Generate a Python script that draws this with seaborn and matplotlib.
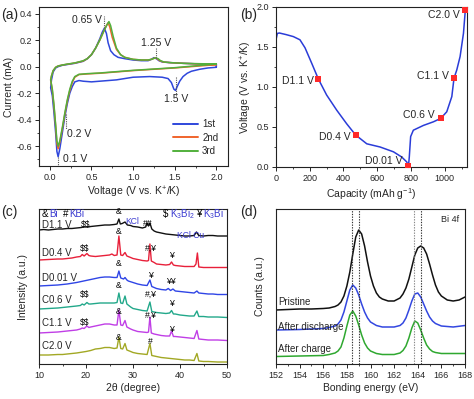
import numpy as np
import pandas as pd
import matplotlib
matplotlib.use("Agg")
import matplotlib.pyplot as plt
import seaborn as sns

sns.set_style("ticks")
plt.rcParams['font.family'] = ['Liberation Sans', 'DejaVu Sans']
plt.rcParams['mathtext.fontset'] = 'custom'
plt.rcParams['mathtext.rm'] = 'Liberation Sans'
plt.rcParams['mathtext.it'] = 'Liberation Sans'

# ---------------- (a) CV data ----------------
cv1_v = [2.0, 1.9, 1.8, 1.7, 1.65, 1.6, 1.56, 1.53, 1.51, 1.49, 1.46, 1.42, 1.35, 1.2, 1.0, 0.8, 0.7, 0.6, 0.5, 0.4,
         0.35, 0.3, 0.27, 0.24, 0.21, 0.18, 0.15, 0.12, 0.1, 0.085, 0.07, 0.05, 0.03, 0.01,
         0.02, 0.04, 0.07, 0.1, 0.15, 0.2, 0.3, 0.4, 0.45, 0.5, 0.55, 0.6, 0.63, 0.655, 0.68, 0.7, 0.73, 0.77,
         0.82, 0.9, 1.0, 1.1, 1.18, 1.22, 1.25, 1.28, 1.31, 1.35, 1.45, 1.6, 1.8, 2.0, 2.0]
cv1_i = [-0.005, -0.01, -0.02, -0.035, -0.05, -0.075, -0.11, -0.15, -0.18, -0.17, -0.12, -0.09, -0.08, -0.075, -0.08,
         -0.1, -0.105, -0.11, -0.115, -0.11, -0.105, -0.115, -0.15, -0.2, -0.28, -0.38, -0.5, -0.62, -0.68, -0.64,
         -0.5, -0.35, -0.22, -0.16,
         -0.1, -0.04, -0.01, 0.0, 0.01, 0.015, 0.025, 0.04, 0.06, 0.09, 0.14, 0.21, 0.26, 0.29, 0.25, 0.18, 0.12,
         0.09, 0.07, 0.06, 0.05, 0.045, 0.045, 0.055, 0.068, 0.06, 0.045, 0.035, 0.03, 0.025, 0.02, 0.02, -0.005]
cv2_v = [2.0, 1.5, 1.0, 0.8, 0.6, 0.45, 0.35, 0.3, 0.27, 0.24, 0.21, 0.18, 0.15, 0.12, 0.1, 0.085, 0.07, 0.05, 0.03,
         0.01, 0.02, 0.04, 0.07, 0.1, 0.15, 0.2, 0.3, 0.4, 0.45, 0.5, 0.55, 0.6, 0.65, 0.68, 0.70, 0.72, 0.75, 0.8,
         0.85, 0.9, 1.0, 1.1, 1.18, 1.22, 1.26, 1.29, 1.32, 1.36, 1.45, 1.6, 1.8, 2.0]
cv2_i = [0.015, -0.01, -0.03, -0.04, -0.05, -0.055, -0.06, -0.08, -0.12, -0.18, -0.26, -0.36, -0.47, -0.57, -0.62,
         -0.58, -0.45, -0.3, -0.18, -0.1, -0.07, -0.03, -0.005, 0.005, 0.012, 0.017, 0.027, 0.042, 0.06, 0.09, 0.14,
         0.2, 0.27, 0.31, 0.33, 0.3, 0.22, 0.13, 0.09, 0.07, 0.055, 0.05, 0.05, 0.055, 0.065, 0.06, 0.045, 0.035,
         0.03, 0.025, 0.02, 0.015]
cv3_v = [2.0, 1.5, 1.0, 0.8, 0.6, 0.45, 0.35, 0.3, 0.27, 0.24, 0.21, 0.18, 0.15, 0.12, 0.1, 0.085, 0.07, 0.05, 0.03,
         0.01, 0.02, 0.04, 0.07, 0.1, 0.15, 0.2, 0.3, 0.4, 0.45, 0.5, 0.55, 0.6, 0.65, 0.69, 0.71, 0.73, 0.76, 0.8,
         0.85, 0.9, 1.0, 1.1, 1.18, 1.22, 1.27, 1.3, 1.33, 1.37, 1.45, 1.6, 1.8, 2.0]
cv3_i = [0.02, -0.008, -0.028, -0.038, -0.048, -0.053, -0.058, -0.075, -0.11, -0.17, -0.25, -0.35, -0.46, -0.56,
         -0.60, -0.56, -0.44, -0.29, -0.17, -0.1, -0.07, -0.03, -0.005, 0.005, 0.012, 0.018, 0.028, 0.044, 0.06,
         0.09, 0.14, 0.2, 0.27, 0.32, 0.34, 0.31, 0.23, 0.14, 0.09, 0.07, 0.055, 0.05, 0.05, 0.055, 0.066, 0.06,
         0.045, 0.035, 0.03, 0.025, 0.022, 0.02]
cv_labels = ["1st", "2nd", "3rd"]
cv_colors = ["#2f47dc", "#f0642c", "#52b03c"]

# ---------------- (b) GCD data ----------------
gcd_cap = [0, 0, 8, 20, 60, 103, 142, 172, 211, 251, 300, 360, 419, 472, 538, 617, 696, 745, 775, 785,
           790, 798, 814, 874, 933, 976, 1012, 1042, 1055, 1071, 1091, 1111, 1122]
gcd_volt = [2.0, 1.59, 1.67, 1.675, 1.655, 1.63, 1.59, 1.49, 1.30, 1.10, 0.90, 0.71, 0.54, 0.40, 0.29, 0.25,
            0.19, 0.125, 0.063, 0.01, 0.125, 0.38, 0.46, 0.52, 0.565, 0.607, 0.69, 0.88, 1.11, 1.21, 1.38, 1.67, 1.96]
pt_cap = [251, 472, 785, 976, 1055, 1122]
pt_volt = [1.10, 0.40, 0.01, 0.607, 1.11, 1.96]
pt_labels = ["D1.1 V", "D0.4 V", "D0.01 V", "C0.6 V", "C1.1 V", "C2.0 V"]
pt_label_x = [128, 350, 636, 844, 933, 992]
pt_label_y = [1.07, 0.38, 0.08, 0.65, 1.14, 1.90]

# ---------------- (c) XRD data ----------------
xrd_names = ["D1.1 V", "D0.4 V", "D0.01 V", "C0.6 V", "C1.1 V", "C2.0 V"]
xrd_colors = ["#111111", "#e8203a", "#2f45e6", "#22a88a", "#c03ee6", "#a2a824"]
xrd_offsets = [134, 104, 78, 55, 31, 9]
xrd_label_y = [139, 111, 86, 64, 41, 18]
xrd_x = [
    [10, 11, 12, 13, 14, 15, 16, 17, 18, 19, 19.5, 20, 20.5, 21, 22, 23, 24, 25, 26, 26.6, 27.0, 27.3, 27.7, 28.3,
     28.8, 29.5, 30, 31, 32, 32.7, 33.0, 33.3, 33.6, 34.0, 34.5, 35, 36, 37, 38, 39, 40, 41, 42, 43, 43.5, 44, 45,
     46, 47, 48, 49, 50],
    [10, 12, 14, 15, 16, 17, 18, 18.8, 19.2, 19.6, 20.2, 20.6, 21, 22, 23, 24, 25, 25.5, 26, 26.6, 27.0, 27.4, 27.8,
     28.3, 28.7, 29.5, 30, 31, 32, 33, 33.3, 33.6, 33.9, 34.5, 35, 36, 37, 37.8, 38.2, 38.6, 39, 40, 41, 42, 43,
     43.4, 43.7, 44, 45, 46, 47, 48, 50],
    [10, 12, 14, 16, 18, 20, 21, 22, 23, 24, 25, 26, 26.6, 27.0, 27.4, 28, 28.3, 28.7, 29, 30, 31, 32, 33, 33.6, 34,
     35, 36, 37, 37.5, 38, 38.5, 39, 40, 41, 42, 43, 43.6, 44, 45, 46, 47, 48, 50],
    [10, 12, 14, 16, 17, 18, 18.8, 19.2, 19.6, 20.2, 20.6, 21, 22, 23, 24, 25, 26, 26.6, 27.0, 27.4, 27.8, 28.3,
     28.7, 29.5, 30, 31, 32, 33, 33.6, 34, 35, 36, 37, 37.8, 38.2, 38.6, 39, 40, 41, 42, 43, 43.6, 44, 45, 46, 48,
     50],
    [10, 12, 14, 16, 17, 18, 18.8, 19.2, 19.6, 20.2, 20.6, 21, 22, 23, 24, 25, 26, 26.6, 27.0, 27.4, 27.8, 28.3,
     28.7, 29.5, 30, 31, 32, 33, 33.3, 33.6, 33.9, 34.5, 35, 36, 37, 37.8, 38.2, 38.6, 39, 40, 41, 42, 43, 43.6, 44,
     45, 46, 48, 50],
    [10, 12, 14, 15, 16, 18, 20, 21, 22, 23, 24, 25, 26, 26.6, 27.0, 27.4, 27.8, 28.3, 28.7, 29.5, 30, 31, 32, 33,
     33.6, 34, 35, 36, 37, 38, 39, 40, 41, 42, 43, 43.6, 44, 45, 46, 48, 50],
]
xrd_rel = [
    [0, 0.5, 0, 0.5, 1, 1, 1.5, 1.5, 2, 2.5, 3, 3, 3, 3.5, 4, 4.5, 5, 5, 5.5, 6, 11, 6, 6.5, 8, 5, 4.5, 3.5, 3, 2,
     3, 7, 4, 7, 1, -1, -2, -3, -4, -4.5, -5, -5.5, -6, -6, -5.5, -2, -5.5, -6, -5.5, -5.5, -6, -6, -6],
    [0, 0.5, 1, 1, 1.5, 2, 3, 3.5, 5.5, 4, 6.5, 4.5, 4, 3.5, 4, 4.5, 5, 6, 4.5, 5, 24, 5, 4.5, 7.5, 4, 2.5, 1.5,
     0.5, -0.5, -1, -0.5, 16, -1, -2.5, -4, -4.5, -5, -4.5, -2, -5, -5.5, -6, -6.5, -6.5, -6.5, -4, 7, -7, -7.5,
     -7.5, -7.5, -7.5, -7.5],
    [0, 0.5, 1, 2, 3.5, 5.5, 6.5, 7.5, 8.5, 9, 9, 8.5, 8.5, 15, 8, 7, 8.5, 6, 5, 3.5, 2, 1, 0.5, 6, -0.5, -2.5,
     -3.5, -4, -2.5, -4.5, -3, -5, -5.5, -6, -6.5, -7, -5, -7, -7.5, -8, -8, -8.5, -8.5],
    [0, 0.5, 1, 2, 2.5, 3, 3.5, 5, 4, 6.5, 5, 5, 5.5, 6, 6, 6, 6, 6.5, 16, 6, 5.5, 13, 5, 2, 0.5, -0.5, -1.5, -2,
     7, -2.5, -3.5, -4, -4.5, -4, -1.5, -5, -5, -6, -6.5, -7, -7, -2, -7.5, -7.5, -8, -8, -8.5],
    [0, 0.5, 1, 2, 2.5, 3, 4, 5, 4.5, 7, 5.5, 6, 7, 8, 9, 9, 8, 8, 23, 8, 7.5, 12.5, 6, 4, 3, 1.5, 1, 0.5, 1, 16,
     0, -1, -1.5, -2.5, -3, -3, 2, -3.5, -3.5, -4, -4.5, -5, -5.5, 2.5, -6, -6.5, -7, -7, -7.5],
    [0, 0, 0.5, 0.5, 1, 2, 3.5, 4.5, 6, 6.5, 7.5, 7.5, 6.5, 7, 18, 6.5, 6, 11.5, 5, 3.5, 2.5, 1.5, 1, 0.5, 11.5,
     -0.5, -1.5, -2.5, -3, -3.5, -4, -4.5, -5, -5, -5.5, 1.5, -6, -6.5, -6.5, -7, -7],
]
# peak markers: (text, 2theta, y, colour)
xrd_marks = [
    ("$$", 19.9, 139.5, "k"), ("&", 27.0, 152, "k"), ("KCl", 29.9, 143, "#3a3ad0"), ("##", 33.2, 140, "k"),
    ("KCl Cu", 42.3, 128, "#3a3ad0"),
    ("$$", 19.7, 116, "k"), ("&", 27.0, 133, "k"), ("#,¥", 33.9, 116, "k"), ("¥", 38.2, 108, "k"),
    ("&", 27.0, 100, "k"), ("¥", 33.8, 89, "k"), ("¥¥", 38.0, 82, "k"),
    ("$$", 19.7, 70, "k"), ("&", 27.0, 79, "k"), ("#,¥", 33.9, 70, "k"), ("¥", 38.2, 60, "k"),
    ("$$", 19.7, 41, "k"), ("&", 27.0, 52, "k"), ("#,¥", 33.9, 49, "k"), ("¥", 38.2, 34, "k"),
    ("&", 27.0, 27, "k"), ("#", 33.6, 23, "k"),
]
# phase key at the top of (c): (text, 2theta of left edge, colour)
xrd_key = [("&", 10.6, "k"), ("Bi", 12.2, "#3a3ad0"), ("#", 15.0, "k"), ("KBi", 16.4, "#3a3ad0"),
           ("$", 36.4, "k"), ("K$_3$Bi$_2$", 37.8, "#3a3ad0"), ("¥", 43.4, "k"), ("K$_3$Bi", 44.8, "#3a3ad0")]

# ---------------- (d) XPS data ----------------
xps_names = ["Pristine", "After discharge", "After charge"]
xps_colors = ["#111111", "#3347e0", "#2fa830"]
xps_label_y = [62, 37, 15]
xps_e = [
    [152, 153, 154, 155, 156, 156.5, 157.0, 157.25, 157.5, 157.75, 158.0, 158.25, 158.5, 158.75, 159.0, 159.25,
     159.5, 159.75, 160.0, 160.25, 160.5, 160.75, 161.0, 161.5, 162.0, 162.5, 162.75, 163.0, 163.25, 163.5, 163.75,
     164.0, 164.25, 164.5, 164.75, 165.0, 165.25, 165.5, 165.75, 166.0, 166.5, 167.0, 167.5, 168.0],
    [152, 154, 156, 156.5, 157, 157.25, 157.5, 157.75, 158.0, 158.25, 158.5, 158.75, 159.0, 159.25, 159.5, 159.75,
     160.0, 160.5, 161.0, 162.0, 162.5, 162.75, 163.0, 163.25, 163.5, 163.75, 164.0, 164.25, 164.5, 164.75, 165.0,
     165.25, 165.5, 166.0, 167.0, 168.0],
    [152, 154, 156, 156.5, 157, 157.25, 157.5, 157.75, 158.0, 158.25, 158.5, 158.75, 159.0, 159.25, 159.5, 159.75,
     160.0, 160.5, 161.0, 162.0, 162.5, 162.75, 163.0, 163.25, 163.5, 163.75, 164.0, 164.25, 164.5, 164.75, 165.0,
     165.25, 165.5, 166.0, 168.0],
]
xps_counts = [
    [54, 54.5, 55, 55, 55.5, 56, 57.5, 59, 62, 68, 78, 92, 110, 127, 134, 130, 118, 102, 88, 78, 71, 67, 65, 63, 63,
     66, 70, 76, 85, 97, 109, 116, 118, 116, 110, 100, 89, 79, 72, 68, 64, 63, 64, 67],
    [34, 34.5, 35.5, 36.5, 38, 40, 44, 52, 63, 74, 79, 76, 69, 60, 52, 46, 42, 38.5, 37, 37, 38.5, 41, 46, 54, 63,
     70, 71, 67, 60, 53, 47, 43, 40.5, 38, 37, 38.5],
    [7.5, 8, 8.5, 9.5, 11, 13, 17, 26, 38, 49, 53, 48, 39, 29, 21, 16, 13, 10.5, 9.5, 9.5, 11, 13.5, 18, 26, 36, 43,
     41, 34, 26, 19, 15, 12.5, 11.5, 10.5, 10.5],
]
xps_ref_lines = [158.45, 159.0, 163.7, 164.3]

# ---------------- figure ----------------
fig = plt.figure(figsize=(4.74, 3.99), dpi=100)
W, H = 474, 399


def box(l, t, r, b):
    return [l / W, 1 - b / H, (r - l) / W, (b - t) / H]


axa = fig.add_axes(box(39, 7, 228, 166))
axb = fig.add_axes(box(276, 7, 467, 167))
axc = fig.add_axes(box(39, 209, 227, 364))
axd = fig.add_axes(box(276, 209, 465, 364))

tick_fs = 6.5
lab_fs = 7.5
for ax in (axa, axb, axc, axd):
    ax.tick_params(which='major', direction='out', length=3, width=0.7, labelsize=tick_fs, pad=2)
    ax.tick_params(which='minor', direction='out', length=1.6, width=0.6)
    for s in ax.spines.values():
        s.set_linewidth(0.8)
        s.set_color('#222222')

# (a)
for v, i, lab, c in zip([cv1_v, cv2_v, cv3_v], [cv1_i, cv2_i, cv3_i], cv_labels, cv_colors):
    sns.lineplot(x=v, y=i, sort=False, estimator=None, color=c, lw=1.1, label=lab, ax=axa)
axa.set_xlim(-0.13, 2.14)
axa.set_ylim(-0.75, 0.45)
axa.set_xticks([0.0, 0.5, 1.0, 1.5, 2.0])
axa.set_yticks([-0.6, -0.4, -0.2, 0.0, 0.2, 0.4])
axa.xaxis.set_major_formatter(matplotlib.ticker.FormatStrFormatter('%.1f'))
axa.yaxis.set_major_formatter(matplotlib.ticker.FormatStrFormatter('%.1f'))
axa.xaxis.set_minor_locator(matplotlib.ticker.MultipleLocator(0.25))
axa.yaxis.set_minor_locator(matplotlib.ticker.MultipleLocator(0.1))
axa.set_xlabel("Voltage (V vs. K$^{+}$/K)", fontsize=lab_fs, labelpad=2)
axa.set_ylabel("Current (mA)", fontsize=lab_fs, labelpad=2)
dot = dict(color='#555555', ls=(0, (1, 1)), lw=0.8)
axa.plot([0.655, 0.655], [0.29, 0.38], **dot)
axa.plot([1.27, 1.27], [0.065, 0.15], **dot)
axa.plot([1.51, 1.51], [-0.08, -0.23], **dot)
axa.plot([0.2, 0.2], [-0.36, -0.47], **dot)
axa.plot([0.1, 0.1], [-0.68, -0.74], **dot)
afs = 7.5
axa.text(0.62, 0.355, "0.65 V", fontsize=afs, ha='right', va='center')
axa.text(1.27, 0.18, "1.25 V", fontsize=afs, ha='center', va='center')
axa.text(1.52, -0.245, "1.5 V", fontsize=afs, ha='center', va='center')
axa.text(0.21, -0.51, "0.2 V", fontsize=afs, ha='left', va='center')
axa.text(0.16, -0.695, "0.1 V", fontsize=afs, ha='left', va='center')
leg = axa.legend(loc='lower right', frameon=False, fontsize=7, handlelength=2.6, handletextpad=0.4,
                 labelspacing=0.35, borderaxespad=0.6)
for ln in leg.get_lines():
    ln.set_linewidth(1.4)

# (b)
sns.lineplot(x=gcd_cap, y=gcd_volt, sort=False, estimator=None, color="#2a3cd8", lw=1.1, ax=axb)
sns.scatterplot(x=pt_cap, y=pt_volt, color="#ff2a2a", marker='s', s=14, linewidth=0, zorder=5, ax=axb)
for t, x, y in zip(pt_labels, pt_label_x, pt_label_y):
    axb.text(x, y, t, fontsize=afs, ha='center', va='center')
axb.set_xlim(0, 1132)
axb.set_ylim(0, 2.0)
axb.set_xticks([0, 200, 400, 600, 800, 1000])
axb.set_yticks([0.0, 0.5, 1.0, 1.5, 2.0])
axb.yaxis.set_major_formatter(matplotlib.ticker.FormatStrFormatter('%.1f'))
axb.xaxis.set_minor_locator(matplotlib.ticker.MultipleLocator(100))
axb.yaxis.set_minor_locator(matplotlib.ticker.MultipleLocator(0.25))
axb.set_xlabel("Capacity (mAh g$^{-1}$)", fontsize=lab_fs, labelpad=2)
axb.set_ylabel("Voltage (V vs. K$^{+}$/K)", fontsize=lab_fs, labelpad=2)

# (c)
for xs, rel, off, c, name, ly in zip(xrd_x, xrd_rel, xrd_offsets, xrd_colors, xrd_names, xrd_label_y):
    sns.lineplot(x=xs, y=np.array(rel) + off, sort=False, estimator=None, color=c, lw=1.0, ax=axc)
    axc.text(10.6, ly, name, fontsize=7, ha='left', va='center')
for t, x, y, c in xrd_marks:
    axc.text(x, y, t, fontsize=6.2, ha='center', va='center', color=c, parse_math=False)
for t, x, c in xrd_key:
    axc.text(x, 150, t, fontsize=7, ha='left', va='center', color=c,
             parse_math=(t not in ("$",)))
axc.set_xlim(10, 50)
axc.set_ylim(0, 155)
axc.set_xticks([10, 20, 30, 40, 50])
axc.xaxis.set_minor_locator(matplotlib.ticker.MultipleLocator(5))
axc.set_yticks([])
axc.set_xlabel("2θ (degree)", fontsize=lab_fs, labelpad=2)
axc.set_ylabel("Intensity (a.u.)", fontsize=lab_fs, labelpad=8)

# (d)
for e, cts, c, name, ly in zip(xps_e, xps_counts, xps_colors, xps_names, xps_label_y):
    sns.lineplot(x=e, y=cts, sort=False, estimator=None, color=c, lw=1.1, ax=axd)
    axd.text(152.2, ly, name, fontsize=7, ha='left', va='center')
for xv, col in zip(xps_ref_lines, ['#333333', '#333333', '#888888', '#333333']):
    axd.axvline(xv, color=col, ls=(0, (1.2, 1.2)), lw=0.8)
axd.text(167.5, 144, "Bi 4f", fontsize=6.5, ha='right', va='center')
axd.set_xlim(152, 168)
axd.set_ylim(0, 155)
axd.set_xticks(list(range(152, 169, 2)))
axd.xaxis.set_minor_locator(matplotlib.ticker.MultipleLocator(1))
axd.set_yticks([])
axd.set_xlabel("Bonding energy (eV)", fontsize=lab_fs, labelpad=2)
axd.set_ylabel("Counts (a.u.)", fontsize=lab_fs, labelpad=8)

# panel letters
for lbl, x, y in [("(a)", 1, 15), ("(b)", 240, 15), ("(c)", 1, 212), ("(d)", 240, 212)]:
    fig.text(x / W, 1 - y / H, lbl, fontsize=10, ha='left', va='center')

fig.savefig("out.png", dpi=100)
